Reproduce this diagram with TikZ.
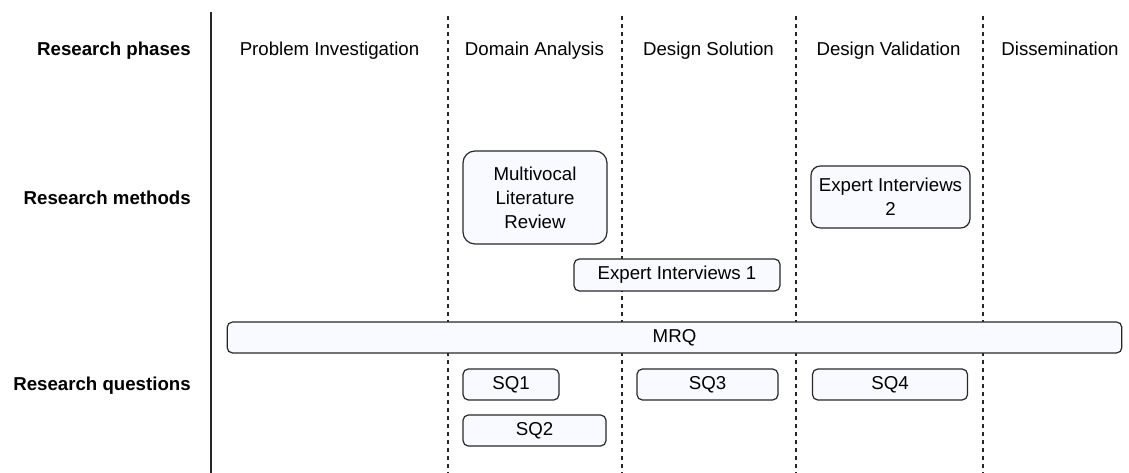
\documentclass[tikz,border=0pt]{standalone}
\usepackage{fontspec}
\setmainfont{Liberation Sans}
\usepackage{tikz}
\usetikzlibrary{positioning}
\definecolor{boxfill}{RGB}{248,250,255}
\definecolor{boxline}{RGB}{40,40,40}

\begin{document}
\begin{tikzpicture}[
      x=0.75pt, y=-0.75pt,
      font=\fontsize{14}{18}\selectfont,
      rowlabel/.style={anchor=base east, font=\fontsize{14}{18}\selectfont\bfseries, inner sep=0pt},
      phase/.style={anchor=base, inner sep=0pt},
      box/.style={draw=boxline, fill=boxfill, line width=0.9pt, rounded corners=4pt, align=center, inner sep=0pt},
      sep/.style={draw=black!85, line width=0.9pt, dash pattern=on 3pt off 3pt}
    ]
      \useasboundingbox (0,0) rectangle (1129,473);

      % row labels
      \node[rowlabel] (rphase) at (191,56) {Research phases};
      \node[rowlabel] (rmethod) at (191,205) {Research methods};
      \node[rowlabel] (rquest) at (191,391) {Research questions};

      % column separators
      \coordinate (l0t) at (211,12);   \coordinate (l0b) at (211,473);
      \coordinate (l1t) at (448,16);   \coordinate (l1b) at (448,473);
      \coordinate (l2t) at (622,16);   \coordinate (l2b) at (622,473);
      \coordinate (l3t) at (796,16);   \coordinate (l3b) at (796,473);
      \coordinate (l4t) at (983,16);   \coordinate (l4b) at (983,473);
      \draw[line width=1.1pt, draw=black!85] (l0t) -- (l0b);
      \draw[sep] (l1t) -- (l1b);
      \draw[sep] (l2t) -- (l2b);
      \draw[sep] (l3t) -- (l3b);
      \draw[sep] (l4t) -- (l4b);

      % phases
      \node[phase] (pinv) at (329.5,56) {Problem Investigation};
      \node[phase] (pdom) at (534.5,56) {Domain Analysis};
      \node[phase] (psol) at (708.5,56) {Design Solution};
      \node[phase] (pval) at (888.5,56) {Design Validation};
      \node[phase] (pdis) at (1060,56) {Dissemination};

      % methods
      \node[box, rounded corners=9pt, minimum width=108pt, minimum height=69.75pt] (mlr) at (535,197.5) {Multivocal\\Literature\\Review};
      \node[box, minimum width=154.5pt, minimum height=24pt] (ei1) at (677,275) {Expert Interviews 1};
      \node[box, rounded corners=7pt, minimum width=119.25pt, minimum height=46.5pt] (ei2) at (890.5,197) {Expert Interviews\\2};

      % questions
      \node[box, minimum width=671pt, minimum height=23.25pt] (mrq) at (674.5,337.5) {MRQ};
      \node[box, minimum width=72pt, minimum height=23.25pt] (sq1) at (511,384.5) {SQ1};
      \node[box, minimum width=107.25pt, minimum height=23.25pt] (sq2) at (534.5,430.5) {SQ2};
      \node[box, minimum width=105.75pt, minimum height=23.25pt] (sq3) at (707.5,384.5) {SQ3};
      \node[box, minimum width=116.25pt, minimum height=23.25pt] (sq4) at (890,384.5) {SQ4};
    \end{tikzpicture}
\end{document}
